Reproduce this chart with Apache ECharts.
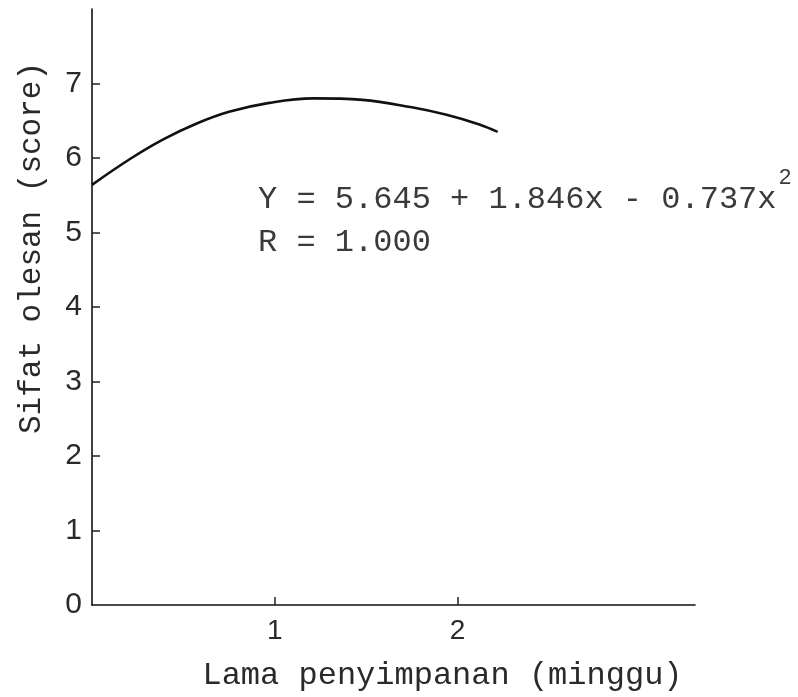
<!DOCTYPE html>
<html>
<head>
<meta charset="utf-8">
<script src="https://cdn.jsdelivr.net/npm/echarts@6/dist/echarts.min.js"></script>
<style>
html,body{margin:0;padding:0;background:#fff;}
#chart{width:798px;height:697px;}
</style>
</head>
<body>
<div id="chart"></div>
<script>
// Data
const weeks = [0, 0.21, 0.39, 0.57, 0.75, 0.97, 1.21, 1.48, 1.75, 1.94, 2.12, 2.22];
const scores = [5.64, 5.99, 6.25, 6.46, 6.62, 6.74, 6.80, 6.78, 6.68, 6.58, 6.45, 6.35];
const xTickValues = [1, 2];
const yTickValues = [0, 1, 2, 3, 4, 5, 6, 7];
const xTitle = 'Lama penyimpanan (minggu)';
const yTitle = 'Sifat olesan (score)';
const equationText = 'Y = 5.645 + 1.846x - 0.737x';
const equationSup = '2';
const rText = 'R = 1.000';

const mono = '"Liberation Mono", "DejaVu Sans Mono", monospace';
const sans = '"Liberation Sans", Arial, sans-serif';
const ink = '#2a2a2a';

const chart = echarts.init(document.getElementById('chart'));
chart.setOption({
  animation: false,
  backgroundColor: '#fff',
  grid: { left: 92, right: 103, top: 9, bottom: 88, containLabel: false },
  xAxis: {
    type: 'value', min: 0, max: 3.3, interval: 1,
    name: xTitle, nameLocation: 'middle', nameGap: 55,
    nameTextStyle: { fontFamily: mono, fontSize: 32, color: ink, padding: [0, 0, 0, 98] },
    axisLine: { show: true, onZero: false, lineStyle: { color: '#111', width: 1.6 } },
    axisTick: { show: true, inside: true, length: 8, customValues: xTickValues, lineStyle: { color: '#222', width: 1.5 } },
    axisLabel: { customValues: xTickValues, margin: 12, fontFamily: sans, fontSize: 28, color: ink },
    splitLine: { show: false }
  },
  yAxis: {
    type: 'value', min: 0, max: 8, interval: 1,
    axisLine: { show: true, onZero: false, lineStyle: { color: '#111', width: 1.6 } },
    axisTick: { show: true, inside: true, length: 8, customValues: yTickValues.filter(v => v > 0), lineStyle: { color: '#222', width: 1.5 } },
    axisLabel: { customValues: yTickValues, margin: 10, fontFamily: sans, fontSize: 30, color: ink },
    splitLine: { show: false }
  },
  graphic: [
    { type: 'text', x: 32, y: 248, rotation: Math.PI / 2,
      style: { text: yTitle, fontFamily: mono, fontSize: 31, fill: ink, textAlign: 'center', textVerticalAlign: 'middle' } },
    { type: 'text', x: 258, y: 200,
      style: { text: equationText, fontFamily: mono, fontSize: 32, fill: '#3a3a3a', textAlign: 'left', textVerticalAlign: 'middle' } },
    { type: 'text', x: 779, y: 178,
      style: { text: equationSup, fontFamily: sans, fontSize: 22, fill: '#3a3a3a', textAlign: 'left', textVerticalAlign: 'middle' } },
    { type: 'text', x: 258, y: 243,
      style: { text: rText, fontFamily: mono, fontSize: 32, fill: '#3a3a3a', textAlign: 'left', textVerticalAlign: 'middle' } }
  ],
  series: [{
    type: 'line',
    data: weeks.map((w, i) => [w, scores[i]]),
    smooth: 0.4,
    showSymbol: false,
    lineStyle: { color: '#111', width: 2.6 }
  }]
});
</script>
</body>
</html>
